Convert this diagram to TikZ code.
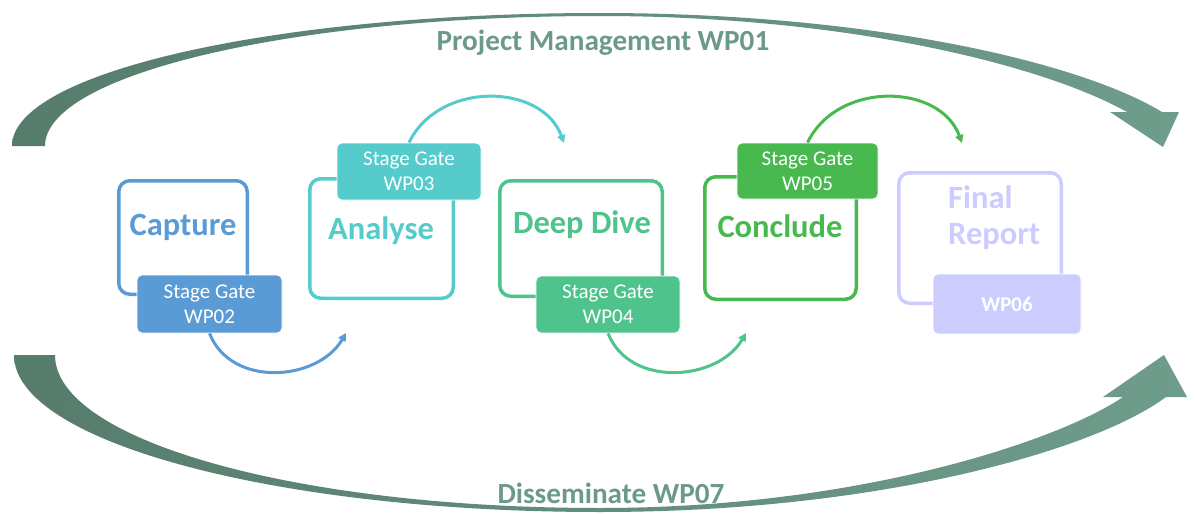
\documentclass[tikz,border=0pt]{standalone}
\usepackage{fontspec}
\setmainfont{Carlito}
\usetikzlibrary{arrows.meta}

\definecolor{arcL}{RGB}{86,124,108}
\definecolor{arcR}{RGB}{111,157,139}
\definecolor{titleC}{RGB}{108,154,136}
\definecolor{cBlue}{RGB}{91,155,213}
\definecolor{cTeal}{RGB}{86,203,204}
\definecolor{cSea}{RGB}{78,196,140}
\definecolor{cGreen}{RGB}{72,185,78}
\definecolor{cLav}{RGB}{204,204,255}

\tikzset{
  mainbox/.style={draw=#1, line width=3.5pt, fill=white, rounded corners=11pt, inner sep=0pt},
  gatebox/.style={fill=#1, draw=white, line width=0.8pt, rounded corners=5pt, inner sep=0pt,
    text=white, align=center, font=\fontsize{21}{25}\selectfont},
  boxtitle/.style={text=#1, font=\fontsize{32.5}{36}\selectfont\bfseries, inner sep=0pt},
  bigtitle/.style={text=titleC, font=\fontsize{29.2}{33}\selectfont\bfseries, inner sep=0pt},
  gatearrow/.style={draw=#1, line width=3pt, -{Triangle[length=8pt,width=8pt]}},
}

\begin{document}
\begin{tikzpicture}[x=1pt,y=-1pt]
\useasboundingbox (0,0) rectangle (1195,514);
\fill[white] (0,0) rectangle (1195,514);

% project management band across the top
\shade[left color=arcL, right color=arcR]
  (12,146) .. controls (12,72) and (276,13) .. (600,13)
  .. controls (870,13) and (1080,62) .. (1162,112)
  -- (1179,112) -- (1163,147) -- (1110,112) -- (1127,112)
  .. controls (1045,66) and (850,16) .. (600,16)
  .. controls (294,16) and (45,74) .. (45,146) -- cycle;

% dissemination band across the bottom
\shade[left color=arcL, right color=arcR]
  (14,355) .. controls (14,442) and (277,512) .. (600,512)
  .. controls (880,512) and (1095,450) .. (1166,397)
  -- (1187,397) -- (1164,355) -- (1103,397) -- (1123,397)
  .. controls (1060,440) and (860,508) .. (600,508)
  .. controls (295,508) and (55,440) .. (55,355) -- cycle;

\node[bigtitle, anchor=base] (pm) at (603,50) {Project Management WP01};
\node[bigtitle, anchor=base] (dis) at (611,503) {Disseminate WP07};

% stage boxes
\node[mainbox=cBlue, minimum width=128.5pt, minimum height=113.5pt] (cap) at (183,237.5) {};
\node[mainbox=cTeal, minimum width=143.5pt, minimum height=119.5pt] (ana) at (381.5,238.5) {};
\node[mainbox=cSea, minimum width=162.5pt, minimum height=115.5pt] (dd) at (581,238.5) {};
\node[mainbox=cGreen, minimum width=151.5pt, minimum height=122.5pt] (con) at (780.5,238) {};
\node[mainbox=cLav, minimum width=162.5pt, minimum height=130.5pt] (fin) at (980,238) {};

\node[boxtitle=cBlue, anchor=base] (capT) at (183,235) {Capture};
\node[boxtitle=cTeal, anchor=base] (anaT) at (381,239) {Analyse};
\node[boxtitle=cSea, anchor=base] (ddT) at (582,233) {Deep Dive};
\node[boxtitle=cGreen, anchor=base] (conT) at (780,237) {Conclude};
\node[boxtitle=cLav, anchor=north west, align=left] (finT) at (948,185) {Final\\Report};

% hand-over arrows between the stages
\coordinate (t2) at (346,333);
\coordinate (t3) at (564,143);
\coordinate (t4) at (746,333);
\coordinate (t5) at (962,143);

% stage gates
\node[gatebox=cBlue, minimum width=145pt, minimum height=58pt] (g2) at (209.5,304) {Stage Gate\\WP02};
\node[gatebox=cTeal, minimum width=144pt, minimum height=57pt] (g3) at (409,171.5) {Stage Gate\\WP03};
\node[gatebox=cSea, minimum width=144pt, minimum height=57pt] (g4) at (608,304.5) {Stage Gate\\WP04};
\node[gatebox=cGreen, minimum width=141pt, minimum height=56pt] (g5) at (807.5,171) {Stage Gate\\WP05};
\node[gatebox=cLav, minimum width=148pt, minimum height=60pt, font=\fontsize{21}{25}\selectfont\bfseries] (g6) at (1007,304) {WP06};

\draw[gatearrow=cBlue] (g2.south) .. controls +(22,55) and +(-28,48) .. (t2);
\draw[gatearrow=cTeal] (g3.north) .. controls +(30,-62) and +(-22,-60) .. (t3);
\draw[gatearrow=cSea] (g4.south) .. controls +(22,55) and +(-28,48) .. (t4);
\draw[gatearrow=cGreen] (g5.north) .. controls +(30,-62) and +(-22,-60) .. (t5);
\end{tikzpicture}
\end{document}
